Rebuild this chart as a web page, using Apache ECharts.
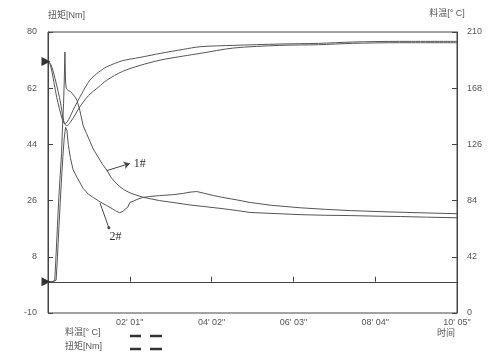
<!DOCTYPE html>
<html><head><meta charset="utf-8">
<script src="https://cdn.jsdelivr.net/npm/echarts@6/dist/echarts.min.js"></script>
<style>html,body{margin:0;padding:0;background:#fff}#c{width:504px;height:362px}</style>
</head><body><div id="c"></div>
<script>
// time axis: seconds, tick every 121 s (02'01")
const xTickLabels = ['', "02' 01\"", "04' 02\"", "06' 03\"", "08' 04\"", "10' 05\""];

// material temperature [°C] (right axis)
const temp1Time = [0, 3, 6, 13, 21, 25, 28, 33, 37, 50, 62, 75, 87, 110, 136, 166, 200, 225, 274, 343, 400, 450, 520, 605];
const temp1     = [188, 186, 180, 161, 145, 141.5, 142.5, 147, 151.5, 164, 174, 180, 184, 188.5, 191, 194, 197, 199, 200, 201, 201.5, 202.5, 203, 203];
const temp2Time = [0, 4, 8, 17, 24, 28, 33, 40, 47, 60, 75, 87, 110, 136, 166, 200, 225, 274, 343, 400, 450, 520, 605];
const temp2     = [188, 186, 180, 161, 142, 140, 142.5, 148, 154, 162.5, 169, 174, 180.5, 185, 189, 192, 194, 198, 200, 200.5, 201.5, 202, 202];

// torque [Nm] (left axis)
const torque1Time = [0, 6, 10, 12, 14, 16, 18, 20, 21, 22, 23, 24, 25, 26, 27, 28, 30, 33, 37, 40, 43, 47, 52, 57, 62, 67, 74, 81, 87, 94, 99, 106, 113, 121, 130, 140, 151, 165, 185, 210, 235, 259, 280, 299, 330, 373, 410, 447, 490, 521, 560, 605];
const torque1     = [0, 0, 0.5, 9, 18, 27, 34, 41, 47, 52, 57, 64, 73.6, 64, 62, 61.6, 61.2, 61, 60, 59.2, 58, 55, 50, 47.5, 45, 42.5, 40, 37.5, 35.8, 33.2, 32, 30.5, 29.4, 28.5, 27.8, 27.1, 26.6, 26, 25.4, 24.6, 24, 23.4, 22.8, 22.2, 21.9, 21.5, 21.3, 21.2, 21, 20.9, 20.7, 20.5];
const torque2Time = [0, 8, 12, 14, 16, 18, 20, 22, 24, 26, 28, 30, 33, 37, 43, 52, 60, 67, 77, 87, 95, 100, 106, 111, 115, 118, 121, 126, 133, 140, 150, 165, 185, 200, 210, 220, 230, 245, 259, 280, 299, 330, 373, 410, 447, 500, 550, 605];
const torque2     = [0, 0, 0.5, 8, 17, 25, 33, 40, 46, 49.5, 48.5, 44, 39.8, 36, 33.4, 29.9, 28, 27, 25.6, 24.4, 23.4, 22.7, 22.1, 22.6, 23.4, 23.9, 25.4, 25.8, 26.5, 27, 27.3, 27.6, 27.9, 28.3, 28.7, 28.9, 28.4, 27.6, 27, 26.2, 25.4, 24.5, 23.7, 23.2, 22.8, 22.4, 22.1, 21.8];

const zip = (t, v) => t.map((x, i) => [x, v[i]]);
const FONT = "'Liberation Sans','Noto Sans CJK SC',sans-serif";
const LINE = '#555';
const TXT = '#555';

const chart = echarts.init(document.getElementById('c'), null, {renderer: 'canvas'});
const axisCommon = {
  axisLine: {show: true, lineStyle: {color: '#444', width: 1}},
  axisTick: {show: true, inside: true, length: 5, lineStyle: {color: '#444'}},
  splitLine: {show: false},
  axisLabel: {color: TXT, fontSize: 9, fontFamily: FONT}
};
chart.setOption({
  animation: false,
  backgroundColor: '#fff',
  grid: {left: 48, right: 47, top: 32, bottom: 49, show: true, borderColor: '#444', borderWidth: 1, containLabel: false, outerBoundsMode: 'none'},
  xAxis: Object.assign({}, axisCommon, {
    type: 'value', min: 0, max: 605, interval: 121,
    axisLabel: Object.assign({}, axisCommon.axisLabel, {margin: 5, formatter: v => xTickLabels[Math.round(v / 121)] || ''})
  }),
  yAxis: [
    Object.assign({}, axisCommon, {
      type: 'value', min: -10, max: 80, interval: 18, position: 'left',
      axisLabel: Object.assign({}, axisCommon.axisLabel, {margin: 11}),
      name: '扭矩[Nm]', nameLocation: 'end', nameGap: 12,
      nameTextStyle: {color: TXT, fontSize: 9, fontFamily: FONT, align: 'left'}
    }),
    Object.assign({}, axisCommon, {
      type: 'value', min: 0, max: 210, interval: 42, position: 'right',
      axisLabel: Object.assign({}, axisCommon.axisLabel, {margin: 10}),
      name: '料温[° C]', nameLocation: 'end', nameGap: 14,
      nameTextStyle: {color: TXT, fontSize: 9, fontFamily: FONT, align: 'center', padding: [0, 20, 0, 0]}
    })
  ],
  series: [
    {name: '料温 1#', type: 'line', yAxisIndex: 1, data: zip(temp1Time, temp1), showSymbol: false, smooth: 0.3,
     lineStyle: {color: LINE, width: 1}, z: 3,
     markPoint: {silent: true, data: [{coord: [0, 188]}], symbol: 'triangle', symbolSize: 9, symbolRotate: -90, symbolOffset: [-2, 0],
       itemStyle: {color: '#333'}, label: {show: false}}},
    {name: '料温 2#', type: 'line', yAxisIndex: 1, data: zip(temp2Time, temp2), showSymbol: false, smooth: 0.3,
     lineStyle: {color: LINE, width: 1}, z: 3},
    {name: '扭矩 1#', type: 'line', yAxisIndex: 0, data: zip(torque1Time, torque1), showSymbol: false, smooth: false,
     lineStyle: {color: LINE, width: 1}, z: 3,
     markPoint: {silent: true, data: [
        {coord: [0, 0], symbol: 'triangle', symbolSize: 9, symbolRotate: -90, symbolOffset: [-2, 0], itemStyle: {color: '#333'}, label: {show: false}},
        {coord: [124, 37.8], symbol: 'circle', symbolSize: 0, label: {show: true, position: 'right', distance: 2, formatter: '1#', color: '#333', fontSize: 12, fontFamily: "'Liberation Serif',serif"}}
      ]},
     markLine: {silent: true, symbol: ['none', 'arrow'], symbolSize: 6, label: {show: false},
       lineStyle: {color: '#444', width: 1, type: 'solid'},
       data: [[{coord: [87, 35.6]}, {coord: [121, 37.9]}]]}},
    {name: '扭矩 2#', type: 'line', yAxisIndex: 0, data: zip(torque2Time, torque2), showSymbol: false, smooth: false,
     lineStyle: {color: LINE, width: 1}, z: 3,
     markPoint: {silent: true, data: [
        {coord: [88, 14.5], symbol: 'circle', symbolSize: 0, label: {show: true, position: 'right', distance: 2, formatter: '2#', color: '#333', fontSize: 12, fontFamily: "'Liberation Serif',serif"}}
      ]},
     markLine: {silent: true, symbol: ['none', 'circle'], symbolSize: 3, label: {show: false},
       lineStyle: {color: '#444', width: 1, type: 'solid'},
       data: [[{coord: [77, 25.2]}, {coord: [90, 17.3]}]]}}
  ],
  graphic: [
    {type: 'text', left: 437, top: 329, style: {text: '时间', fill: TXT, font: '9px ' + FONT}},
    {type: 'text', left: 65, top: 328, style: {text: '料温[° C]', fill: TXT, font: '9px ' + FONT}},
    {type: 'text', left: 65, top: 342, style: {text: '扭矩[Nm]', fill: TXT, font: '9px ' + FONT}},
    {type: 'line', shape: {x1: 130, y1: 336, x2: 141, y2: 336}, style: {stroke: '#333', lineWidth: 2.5}},
    {type: 'line', shape: {x1: 150, y1: 336, x2: 162, y2: 336}, style: {stroke: '#333', lineWidth: 2.5}},
    {type: 'line', shape: {x1: 130, y1: 349, x2: 141, y2: 349}, style: {stroke: '#333', lineWidth: 2.5}},
    {type: 'line', shape: {x1: 150, y1: 349, x2: 162, y2: 349}, style: {stroke: '#333', lineWidth: 2.5}}
  ]
});
</script></body></html>
